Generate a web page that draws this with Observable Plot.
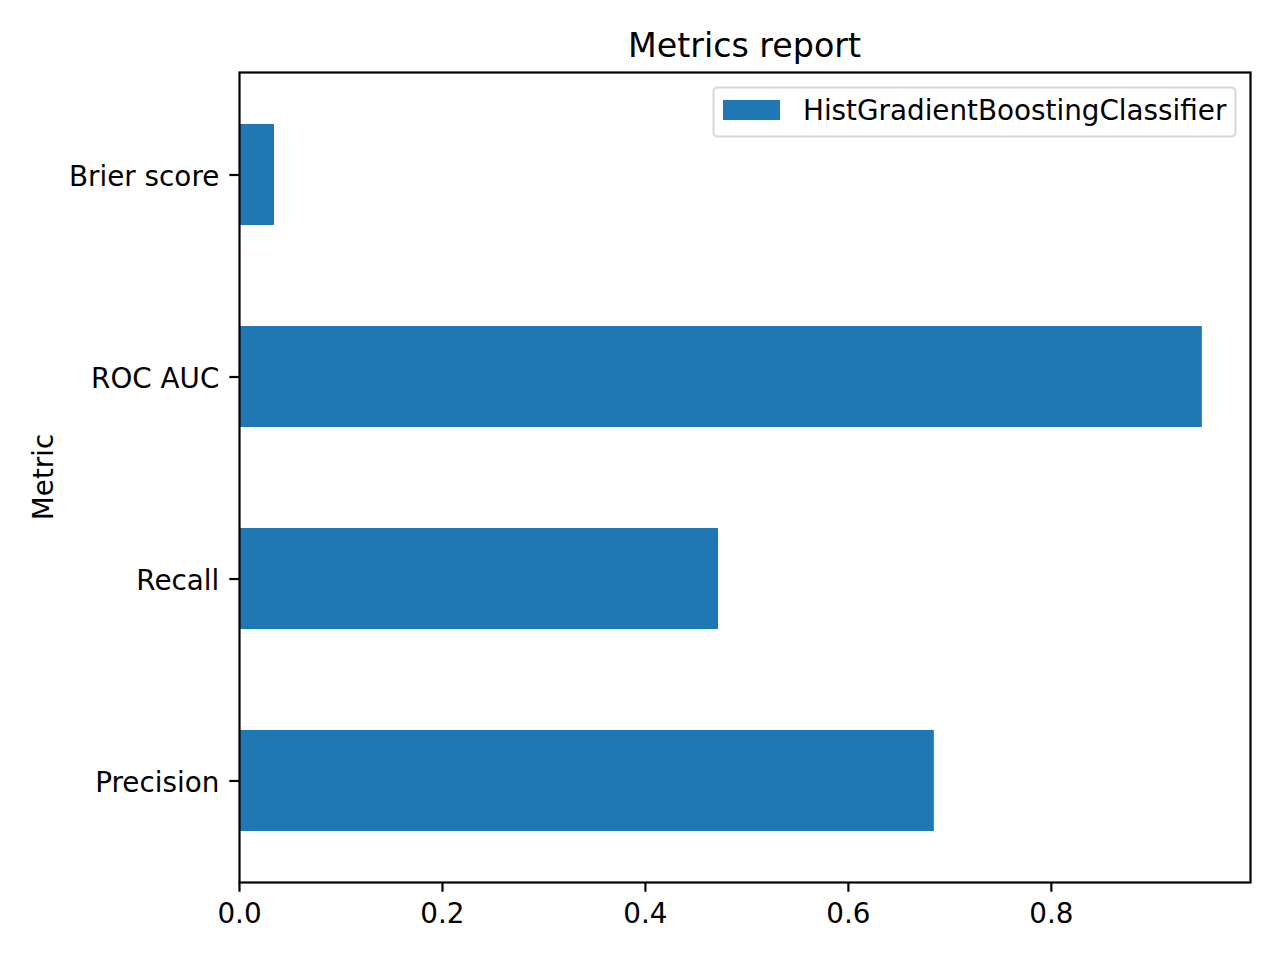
<!DOCTYPE html>
<html>
<head>
<meta charset="utf-8">
<script src="https://cdn.jsdelivr.net/npm/d3@7"></script>
<script src="https://cdn.jsdelivr.net/npm/@observablehq/plot@0.6"></script>
<style>
  html, body { margin: 0; padding: 0; background: #fff; }
  #chart { position: relative; width: 1280px; height: 960px; font-family: "DejaVu Sans", sans-serif; }
</style>
</head>
<body>
<div id="chart"></div>
<script>
const metrics = ["Brier score", "ROC AUC", "Recall", "Precision"];
const values = [0.0345, 0.9488, 0.472, 0.6847];
const seriesName = "HistGradientBoostingClassifier";
const xTicks = [0, 0.2, 0.4, 0.6, 0.8];
const titleText = "Metrics report";
const yLabel = "Metric";

const data = metrics.map((m, i) => ({metric: m, value: values[i]}));
const color = "#1f77b4";
const FS = 27.8;

const mL = 239, mR = 30, mT = 72, mB = 78;

const plot = Plot.plot({
  width: 1280,
  height: 960,
  marginLeft: mL,
  marginRight: mR,
  marginTop: mT,
  marginBottom: mB,
  style: {fontFamily: "DejaVu Sans, sans-serif", fontSize: FS + "px", background: "#fff", color: "#000"},
  x: {domain: [0, d3.max(values) * 1.05], ticks: xTicks},
  y: {domain: metrics, paddingInner: 0.5, paddingOuter: 0.25},
  marks: [
    Plot.barX(data, {x: "value", y: "metric", fill: color}),
    Plot.frame({stroke: "#000", strokeWidth: 2.2}),
    Plot.axisX({ticks: xTicks, tickFormat: d3.format(".1f"), tickSize: 9.7, tickPadding: 11.5, strokeWidth: 2.2, fontSize: FS, label: null, fill: "#000"}),
    Plot.axisY({tickSize: 9.7, tickPadding: 10.5, strokeWidth: 2.2, fontSize: FS, label: null, fill: "#000"})
  ]
});

document.getElementById("chart").appendChild(plot);

const svg = d3.select(plot);
// nudge y tick labels down slightly to match baseline placement
svg.selectAll('g[aria-label="y-axis tick label"] text').attr("dy", 2);

// Title
svg.append("text")
  .attr("x", (mL + 1280 - mR) / 2)
  .attr("y", 57)
  .attr("text-anchor", "middle")
  .attr("font-size", 33.3)
  .attr("fill", "#000")
  .text(titleText);
// Y label
svg.append("text")
  .attr("transform", `translate(53, ${(mT + 960 - mB) / 2}) rotate(-90)`)
  .attr("text-anchor", "middle")
  .attr("font-size", FS)
  .attr("fill", "#000")
  .text(yLabel);
// Legend
const lg = svg.append("g");
lg.append("rect")
  .attr("x", 713.5).attr("y", 87.5).attr("width", 522).attr("height", 49)
  .attr("rx", 4).attr("fill", "#fff").attr("fill-opacity", 0.8)
  .attr("stroke", "#d6d6d6").attr("stroke-width", 2);
lg.append("rect")
  .attr("x", 723).attr("y", 100).attr("width", 57).attr("height", 20)
  .attr("fill", color);
lg.append("text")
  .attr("x", 803).attr("y", 120)
  .attr("text-anchor", "start")
  .attr("font-size", FS).attr("fill", "#000")
  .text(seriesName);
</script>
</body>
</html>
